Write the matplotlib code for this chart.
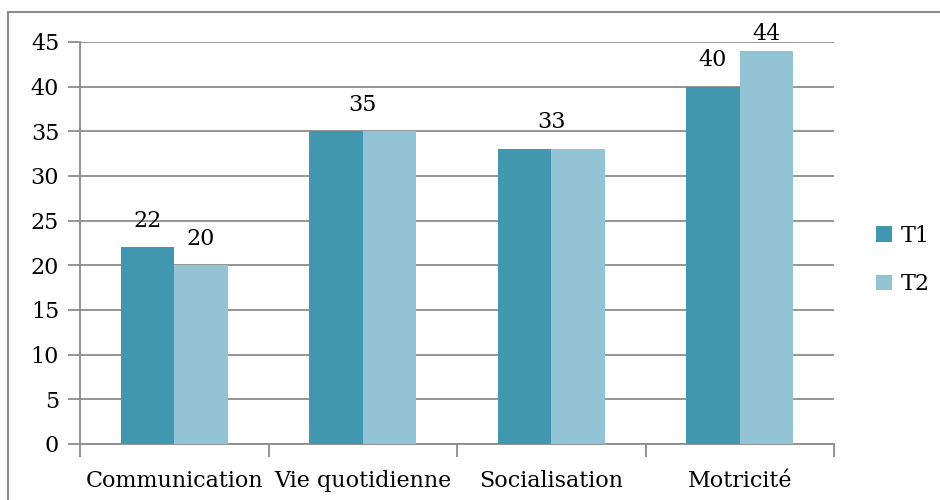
import numpy as np
import matplotlib
matplotlib.use('Agg')
import matplotlib.pyplot as plt
from matplotlib.lines import Line2D

categories = ['Communication', 'Vie quotidienne', 'Socialisation', 'Motricité']
t1 = [22, 35, 33, 40]
t2 = [20, 35, 33, 44]
series_names = ['T1', 'T2']
yticks = list(range(0, 50, 5))

C1 = '#4297b0'
C2 = '#93c4d5'
GRID = '#8c8c8c'

plt.rcParams['font.family'] = ['DejaVu Serif']
FS = 16

fig = plt.figure(figsize=(9.4, 5), dpi=100)

# outer frame (left + top edges only visible)
fig.add_artist(Line2D([8/940, 8/940], [0, 488/500], transform=fig.transFigure, color='#8c8c8c', lw=1.5))
fig.add_artist(Line2D([8/940, 1], [488/500, 488/500], transform=fig.transFigure, color='#8c8c8c', lw=1.5))

ax = fig.add_axes([80/940, 56/500, 754/940, 402/500])

x = np.arange(len(categories))
w = 0.285
ax.bar(x - w/2, t1, w, color=C1, label=series_names[0], zorder=3)
ax.bar(x + w/2, t2, w, color=C2, label=series_names[1], zorder=3)

ax.set_xlim(-0.5, len(categories) - 0.5)
ax.set_ylim(0, 45)
ax.set_yticks(yticks)
ax.yaxis.grid(True, color=GRID, lw=1.3, zorder=0)
ax.set_axisbelow(True)

for s in ['top', 'right']:
    ax.spines[s].set_visible(False)
for s in ['left', 'bottom']:
    ax.spines[s].set_color(GRID)
    ax.spines[s].set_linewidth(1.3)

ax.set_xticks(np.arange(len(categories) + 1) - 0.5)
ax.set_xticklabels([])
ax.set_xticks(x, minor=True)
ax.set_xticklabels(categories, minor=True, fontsize=FS)
ax.tick_params(axis='x', which='major', length=9, color=GRID, width=1.3)
ax.tick_params(axis='x', which='minor', length=0, pad=19)
ax.tick_params(axis='y', length=9, color=GRID, width=1.3, labelsize=FS, pad=6)

# data labels
off = 3.0
cap = 45.9
for i in range(len(categories)):
    if t1[i] == t2[i]:
        ax.text(x[i], min(t1[i] + off, cap), str(t1[i]), ha='center', va='center', fontsize=FS)
    else:
        ax.text(x[i] - w/2, min(t1[i] + off, cap), str(t1[i]), ha='center', va='center', fontsize=FS)
        ax.text(x[i] + w/2, min(t2[i] + off, cap), str(t2[i]), ha='center', va='center', fontsize=FS)

leg = fig.legend(loc='center left', bbox_to_anchor=(856/940, 240/500), frameon=False,
                 fontsize=FS, handlelength=0.7, handleheight=0.7, handletextpad=0.4,
                 labelspacing=1.2)

fig.savefig('out.png', dpi=100)
